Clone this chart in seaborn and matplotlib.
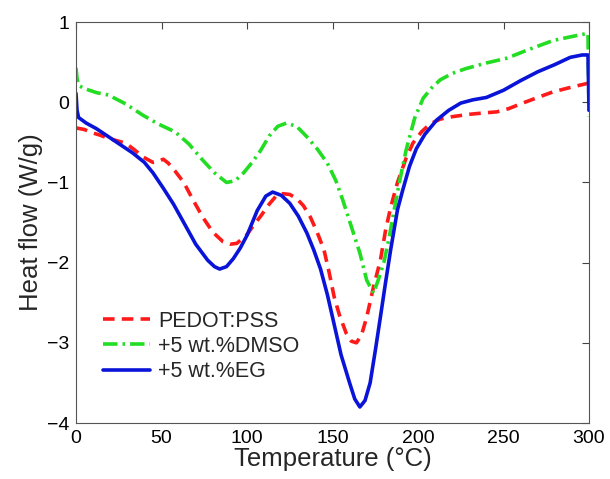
import pandas as pd
import seaborn as sns
import matplotlib.pyplot as plt

# DSC curves (temperature in C, heat flow in W/g)
temp_pss = [0, 5, 8, 14, 19, 24, 29, 34, 39, 45, 48, 51, 54, 58, 63, 68, 74, 80, 86,
            90, 94, 100, 104, 108, 113, 117, 121, 125, 129, 133, 137, 141, 145, 148,
            151, 154, 158, 161, 164, 167, 170, 174, 178, 181, 184, 188, 193, 197, 202,
            207, 213, 220, 230, 240, 246, 253, 260, 270, 279, 290, 300]
flow_pss = [-0.32, -0.34, -0.37, -0.41, -0.45, -0.48, -0.51, -0.59, -0.68, -0.75,
            -0.74, -0.71, -0.76, -0.86, -1.0, -1.2, -1.43, -1.62, -1.74, -1.77, -1.76,
            -1.65, -1.53, -1.42, -1.27, -1.17, -1.14, -1.15, -1.2, -1.29, -1.43, -1.62,
            -1.84, -2.12, -2.43, -2.65, -2.88, -2.98, -3.0, -2.9, -2.68, -2.3, -1.97,
            -1.6, -1.31, -1.0, -0.7, -0.51, -0.37, -0.27, -0.21, -0.18, -0.15, -0.13,
            -0.12, -0.08, -0.02, 0.06, 0.13, 0.19, 0.24]

temp_dmso = [0, 0.6, 1.5, 5, 12, 19, 29, 39, 48, 58, 66, 74, 81, 88, 93, 98, 103, 108,
             113, 118, 123, 129, 135, 141, 147, 152, 156, 161, 166, 170, 174, 177, 180,
             183, 186, 189, 193, 198, 203, 208, 213, 220, 228, 240, 252, 265, 279, 290,
             299.4, 300]
flow_dmso = [0.43, 0.3, 0.21, 0.17, 0.12, 0.09, -0.02, -0.16, -0.27, -0.37, -0.52,
             -0.72, -0.88, -1.0, -0.98, -0.88, -0.75, -0.6, -0.42, -0.3, -0.26, -0.3,
             -0.43, -0.58, -0.76, -0.98, -1.22, -1.55, -1.88, -2.22, -2.38, -2.2, -2.0,
             -1.7, -1.35, -1.01, -0.6, -0.2, 0.05, 0.18, 0.28, 0.36, 0.42, 0.49, 0.55,
             0.66, 0.77, 0.82, 0.86, -0.18]

temp_eg = [0, 0.6, 1.5, 6, 12, 19, 26, 33, 40, 45, 51, 57, 63, 70, 77, 81, 84, 88, 92,
           96, 100, 106, 111, 115, 120, 125, 130, 135, 139, 143, 147, 150, 155, 160,
           163, 166, 169, 172, 175, 178, 181, 184, 188, 191, 195, 199, 204, 211, 218,
           225, 232, 240, 250, 260, 270, 280, 289, 296, 299.4, 300]
flow_eg = [0.11, -0.1, -0.19, -0.26, -0.33, -0.43, -0.53, -0.63, -0.75, -0.88, -1.07,
           -1.27, -1.5, -1.77, -1.97, -2.05, -2.08, -2.05, -1.95, -1.82, -1.66, -1.35,
           -1.17, -1.12, -1.16, -1.26, -1.42, -1.63, -1.84, -2.08, -2.4, -2.68, -3.15,
           -3.5, -3.7, -3.8, -3.72, -3.5, -3.1, -2.68, -2.25, -1.84, -1.34, -1.1, -0.8,
           -0.58, -0.4, -0.22, -0.1, -0.01, 0.03, 0.06, 0.15, 0.27, 0.38, 0.47, 0.56,
           0.59, 0.59, -0.1]

labels = ['PEDOT:PSS', '+5 wt.%DMSO', '+5 wt.%EG']

sns.set_style('white')
plt.rcParams['font.family'] = ['Liberation Sans', 'DejaVu Sans']

fig = plt.figure(figsize=(6.1, 4.79), dpi=100)
ax = fig.add_axes([0.1246, 0.1169, 0.841, 0.837])

series = [
    (temp_pss, flow_pss, labels[0], '#ff1a1a', (3.2, 2.0)),
    (temp_dmso, flow_dmso, labels[1], '#22dd22', (4.0, 1.4, 0.7, 1.4)),
    (temp_eg, flow_eg, labels[2], '#0a14d8', None),
]
for t, h, name, col, dash in series:
    d = pd.DataFrame({'T': t, 'H': h})
    sns.lineplot(data=d, x='T', y='H', ax=ax, color=col, linewidth=2.6,
                 sort=False, estimator=None, label=name)
    if dash is not None:
        ax.lines[-1].set_dashes(dash)

ax.set_xlim(0, 300)
ax.set_ylim(-4, 1)
ax.set_xticks(range(0, 301, 50))
ax.set_yticks(range(-4, 2))
ax.set_xlabel('Temperature (\u00b0C)', fontsize=18.5, labelpad=0)
ax.set_ylabel('Heat flow (W/g)', fontsize=18.5, labelpad=3)
ax.tick_params(direction='in', length=5, width=0.8, labelsize=14, top=True,
               right=True, colors='#444444', labelcolor='black', pad=5)
for s in ax.spines.values():
    s.set_color('#555555')
    s.set_linewidth(0.8)

ax.legend(loc='lower left', bbox_to_anchor=(0.036, 0.08), frameon=False,
          fontsize=15.5, handlelength=2.2, handletextpad=0.35, labelspacing=0.2,
          borderaxespad=0)

fig.savefig('out.png', dpi=100)
